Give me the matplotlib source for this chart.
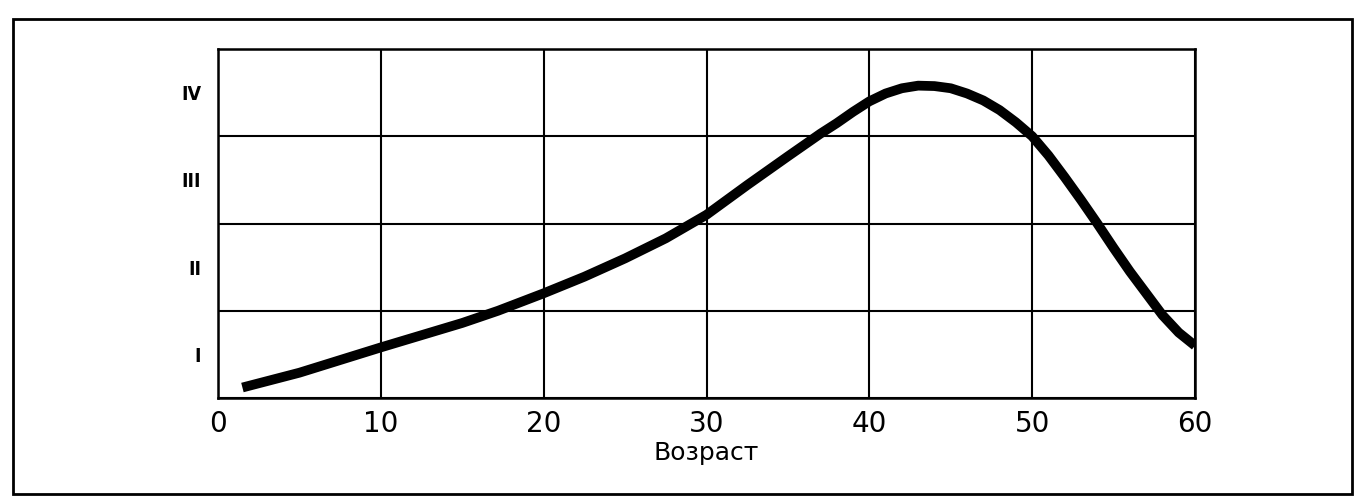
import matplotlib
matplotlib.use("Agg")
import matplotlib.pyplot as plt
from matplotlib.patches import Rectangle

# Data
age = [1.5, 5, 10, 15, 17.2, 20, 22.5, 25, 27.5, 30, 32.5, 35, 37, 38, 39,
       40, 41, 42, 43, 44, 45, 46, 47, 48, 49, 50, 51, 52, 53, 54, 55, 56,
       57, 58, 59, 60]
level = [0.12, 0.29, 0.58, 0.86, 1.0, 1.2, 1.39, 1.6, 1.83, 2.1, 2.44, 2.77,
         3.03, 3.15, 3.28, 3.40, 3.49, 3.55, 3.58, 3.575, 3.55, 3.49, 3.41,
         3.30, 3.16, 3.0, 2.78, 2.53, 2.27, 2.0, 1.72, 1.45, 1.2, 0.95, 0.75,
         0.6]
x_ticks = [0, 10, 20, 30, 40, 50, 60]
grid_levels = [0, 1, 2, 3, 4]
roman_pos = [0.5, 1.5, 2.5, 3.5]
roman_labels = ["I", "II", "III", "IV"]
x_label = "Возраст"

plt.rcParams['font.family'] = ['DejaVu Sans']

fig = plt.figure(figsize=(13.56, 4.96), dpi=100)
ax = fig.add_axes([218 / 1356, 1 - 398 / 496, (1195 - 218) / 1356, (398 - 49) / 496])

ax.plot(age, level, color="black", lw=7.0, solid_capstyle="butt",
        solid_joinstyle="round", zorder=3)

ax.set_xlim(0, 60)
ax.set_ylim(0, 4)
ax.set_xticks(x_ticks)
ax.set_xticklabels([str(t) for t in x_ticks], fontsize=20)
ax.set_yticks(grid_levels)
ax.set_yticklabels([""] * len(grid_levels))
ax.set_yticks(roman_pos, labels=roman_labels, minor=True)
ax.tick_params(axis="y", which="minor", length=0, pad=12, labelsize=14)
for lab in ax.get_yticklabels(minor=True):
    lab.set_fontweight("bold")
    lab.set_fontstretch("condensed")
ax.tick_params(axis="both", which="major", length=0)
ax.tick_params(axis="x", pad=9)
ax.grid(True, which="major", color="black", lw=1.5)
ax.set_axisbelow(True)
for s in ax.spines.values():
    s.set_linewidth(1.8)
ax.set_xlabel(x_label, fontsize=18, labelpad=2)

fig.patches.append(Rectangle((13 / 1356, 2 / 496), (1352 - 13) / 1356, (477 - 2) / 496,
                             transform=fig.transFigure, fill=False, lw=2.0,
                             edgecolor="black"))

fig.savefig("out.png", dpi=100)
